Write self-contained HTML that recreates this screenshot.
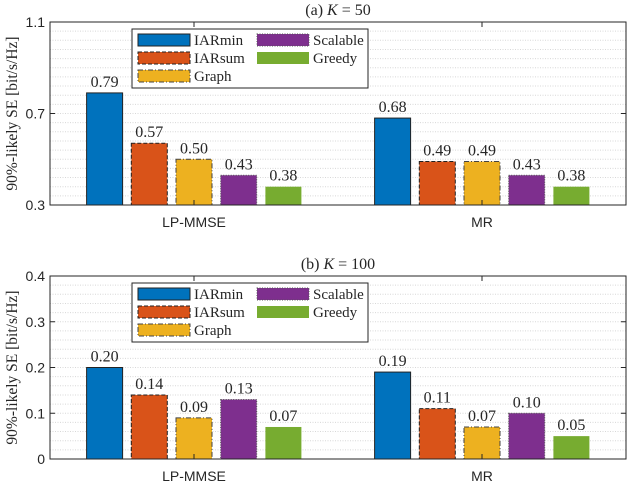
<!DOCTYPE html>
<html><head><meta charset="utf-8"><style>
body{margin:0;background:#fff}
svg{display:block}
text{font-family:"Liberation Serif",serif;fill:#262626}
.sans{font-family:"Liberation Sans",sans-serif}
</style></head><body>
<svg id="c" width="628" height="482" xmlns="http://www.w3.org/2000/svg"></svg>
<script>
const categories = ["LP-MMSE", "MR"];
const seriesNames = ["IARmin", "IARsum", "Graph", "Scalable", "Greedy"];
const valuesA = [[0.79, 0.68], [0.57, 0.49], [0.50, 0.49], [0.43, 0.43], [0.38, 0.38]];
const valuesB = [[0.20, 0.19], [0.14, 0.11], [0.09, 0.07], [0.13, 0.10], [0.07, 0.05]];
const ticksA = [0.3, 0.7, 1.1];
const ticksB = [0, 0.1, 0.2, 0.3, 0.4];

const colors = ["#0072BD", "#D95319", "#EDB120", "#7E2F8E", "#77AC30"];
const dashes = [null, "4,2", "5,2,1,2", "1,1.5", null];
const strokes = ["#222", "#222", "#444", "#555", "none"];
const NS = "http://www.w3.org/2000/svg";
const svg = document.getElementById("c");
function mk(tag, attrs, parent) {
  const e = document.createElementNS(NS, tag);
  for (const k in attrs) e.setAttribute(k, attrs[k]);
  (parent || svg).appendChild(e);
  return e;
}
function panel(p) {
  const g = mk("g", {});
  
  
  const L = 50, R = 626;
  const y = v => p.bot - (v - p.min) / (p.max - p.min) * (p.bot - p.top);
  const xc = i => L + (R - L) * (i + 0.5) / categories.length;
  for (let v = p.min; v <= p.max + 1e-9; v += p.minor) {
    const l = mk("line", {x1: L, x2: R, y1: y(v), y2: y(v), stroke: "#d8d8d8", "stroke-width": 1, "stroke-dasharray": "1,1.5"}, g);
    
    
  }
  const bw = 36, step = 44.7;
  p.vals.forEach((s, si) => {
    s.forEach((v, ci) => {
      const cx = xc(ci) + (si - 2) * step;
      const r = mk("rect", {x: cx - bw / 2, y: y(v), width: bw, height: y(p.min) - y(v), fill: colors[si], stroke: strokes[si], "stroke-width": 1}, g);
      if (dashes[si]) r.setAttribute("stroke-dasharray", dashes[si]);
      
      
      const t = mk("text", {x: cx, y: y(v) - 6, "text-anchor": "middle", "font-size": 16}, g);
      t.textContent = v.toFixed(2);
      
      
    });
  });
  const box = mk("rect", {x: L, y: p.top, width: R - L, height: p.bot - p.top, fill: "none", stroke: "#262626", "stroke-width": 1}, g);
  
  
  p.ticks.forEach(v => {
    mk("line", {x1: L, x2: L + 5, y1: y(v), y2: y(v), stroke: "#262626"}, g);
    mk("line", {x1: R, x2: R - 5, y1: y(v), y2: y(v), stroke: "#262626"}, g);
    const t = mk("text", {x: L - 5, y: y(v) + 5, "text-anchor": "end", "font-size": 14, class: "sans"}, g);
    t.textContent = String(v);
    
    
  });
  categories.forEach((c, ci) => {
    mk("line", {x1: xc(ci), x2: xc(ci), y1: p.top, y2: p.top + 5, stroke: "#262626"}, g);
    mk("line", {x1: xc(ci), x2: xc(ci), y1: p.bot, y2: p.bot - 5, stroke: "#262626"}, g);
    const t = mk("text", {x: xc(ci), y: p.bot + 22, "text-anchor": "middle", "font-size": 14, class: "sans"}, g);
    t.textContent = c;
    
    
  });
  const yt = mk("text", {x: 0, y: 0, "text-anchor": "middle", "font-size": 15.5, transform: `translate(17,${(p.top + p.bot) / 2}) rotate(-90)`}, g);
  yt.textContent = "90%-likely SE [bit/s/Hz]";
  
  
  const ti = mk("text", {x: 338, y: p.top - 7, "text-anchor": "middle", "font-size": 16}, g);
  ti.innerHTML = p.title + ' <tspan font-style="italic">K</tspan> = ' + p.k;
  
  
  const lg = mk("g", {}, g);
  
  
  const lt = p.legTop;
  mk("rect", {x: 132, y: lt, width: 236, height: 59, fill: "#fff", stroke: "#262626", "stroke-width": 1}, lg);
  const pos = [[138, 0], [138, 1], [138, 2], [257, 0], [257, 1]];
  seriesNames.forEach((n, si) => {
    const [lx, row] = pos[si];
    const cy = lt + 11 + row * 18;
    const r = mk("rect", {x: lx, y: cy - 6, width: 52, height: 12, fill: colors[si], stroke: strokes[si]}, lg);
    if (dashes[si]) r.setAttribute("stroke-dasharray", dashes[si]);
    const t = mk("text", {x: lx + 56, y: cy + 5, "font-size": 15}, lg);
    t.textContent = n;
    
    
  });
}
panel({name: "panel-a", top: 22, bot: 205, min: 0.3, max: 1.1, minor: 0.04, ticks: ticksA, vals: valuesA, title: "(a)", k: 50, legTop: 29});
panel({name: "panel-b", top: 276, bot: 459, min: 0, max: 0.4, minor: 0.02, ticks: ticksB, vals: valuesB, title: "(b)", k: 100, legTop: 283});
</script>
</body></html>
